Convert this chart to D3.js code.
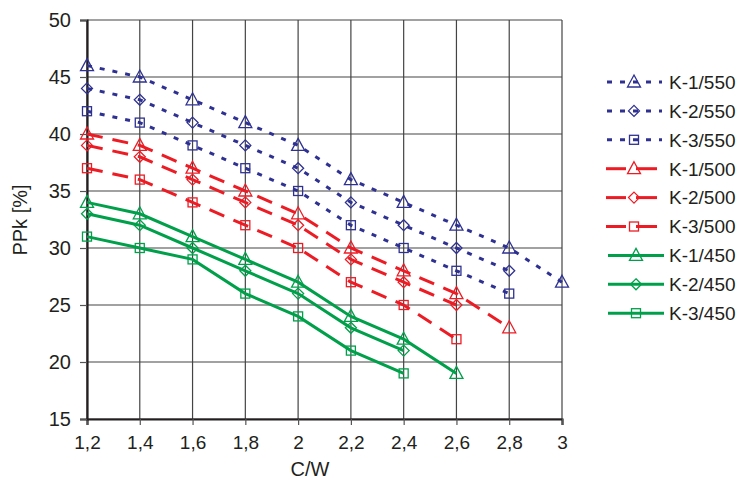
<!DOCTYPE html>
<html>
<head>
<meta charset="utf-8">
<script src="https://cdn.jsdelivr.net/npm/d3@7.9.0/dist/d3.min.js"></script>
<style>
  body { margin: 0; background: #fff; }
  svg text { font-family: "Liberation Sans", Arial, sans-serif; fill: #231f20; }
</style>
</head>
<body>
<svg id="chart" width="744" height="495"></svg>
<script>
// x values (C/W)
const cw = [1.2, 1.4, 1.6, 1.8, 2.0, 2.2, 2.4, 2.6, 2.8, 3.0];
const xTicks = [1.2, 1.4, 1.6, 1.8, 2.0, 2.2, 2.4, 2.6, 2.8, 3.0];
const yTicks = [15, 20, 25, 30, 35, 40, 45, 50];

// PPk [%] for each series
const k1_550 = [46, 45, 43, 41, 39, 36, 34, 32, 30, 27];
const k2_550 = [44, 43, 41, 39, 37, 34, 32, 30, 28];
const k3_550 = [42, 41, 39, 37, 35, 32, 30, 28, 26];
const k1_500 = [40, 39, 37, 35, 33, 30, 28, 26, 23];
const k2_500 = [39, 38, 36, 34, 32, 29, 27, 25];
const k3_500 = [37, 36, 34, 32, 30, 27, 25, 22];
const k1_450 = [34, 33, 31, 29, 27, 24, 22, 19];
const k2_450 = [33, 32, 30, 28, 26, 23, 21];
const k3_450 = [31, 30, 29, 26, 24, 21, 19];

const seriesNames = ['K-1/550', 'K-2/550', 'K-3/550', 'K-1/500', 'K-2/500', 'K-3/500', 'K-1/450', 'K-2/450', 'K-3/450'];
const seriesValues = [k1_550, k2_550, k3_550, k1_500, k2_500, k3_500, k1_450, k2_450, k3_450];
const seriesMarkers = ['tri', 'dia', 'sq', 'tri', 'dia', 'sq', 'tri', 'dia', 'sq'];

// line styles per temperature group
const blue = '#2e3192', red = '#ed1c24', green = '#00a04b';
const styleOf = (i) => {
  if (i < 3) return { color: blue, dash: '5,8', width: 3 };
  if (i < 6) return { color: red, dash: '16,10', width: 3 };
  return { color: green, dash: null, width: 3 };
};

const svg = d3.select('#chart');
const plotL = 87, plotR = 562, plotT = 20, plotB = 419;

const x = d3.scaleLinear().domain([1.2, 3]).range([plotL, plotR]);
const y = d3.scaleLinear().domain([15, 50]).range([plotB, plotT]);

// grid
const grid = svg.append('g');
grid.selectAll('.gx').data(xTicks).join('line')
  .attr('x1', d => x(d)).attr('x2', d => x(d))
  .attr('y1', plotT).attr('y2', plotB)
  .attr('stroke', '#444').attr('stroke-width', 1.2);
grid.selectAll('.gy').data(yTicks).join('line')
  .attr('x1', plotL).attr('x2', plotR)
  .attr('y1', d => y(d)).attr('y2', d => y(d))
  .attr('stroke', '#444').attr('stroke-width', 1.2);

// axes
const fmt = d => String(+d.toFixed(1)).replace('.', ',');
const xAxis = svg.append('g').attr('transform', `translate(0,${plotB})`)
  .call(d3.axisBottom(x).tickValues(xTicks).tickSize(6).tickPadding(11).tickFormat(fmt));
const yAxis = svg.append('g').attr('transform', `translate(${plotL},0)`)
  .call(d3.axisLeft(y).tickValues(yTicks).tickSize(7).tickPadding(9));
[xAxis, yAxis].forEach(a => {
  a.select('.domain').attr('stroke', '#231f20').attr('stroke-width', 2.2);
  a.selectAll('.tick line').attr('stroke', '#555').attr('stroke-width', 1.2);
  a.selectAll('.tick text').attr('fill', '#231f20');
});
xAxis.selectAll('.tick text').style('font-size', '19px');
yAxis.selectAll('.tick text').style('font-size', '20px');

svg.append('text').attr('x', 310).attr('y', 476).attr('text-anchor', 'middle')
  .style('font-size', '20px').text('C/W');
svg.append('text').attr('transform', 'translate(27,220) rotate(-90)').attr('text-anchor', 'middle')
  .style('font-size', '20px').text('PPk [%]');

// marker drawing
function marker(g, type, cx, cy, color) {
  let p;
  if (type === 'tri') p = g.append('path').attr('d', `M${cx},${cy - 7}L${cx + 6.5},${cy + 5}L${cx - 6.5},${cy + 5}Z`);
  else if (type === 'dia') p = g.append('path').attr('d', `M${cx},${cy - 5.5}L${cx + 5.5},${cy}L${cx},${cy + 5.5}L${cx - 5.5},${cy}Z`);
  else p = g.append('rect').attr('x', cx - 4.5).attr('y', cy - 4.5).attr('width', 9).attr('height', 9);
  p.attr('fill', 'none').attr('stroke', color).attr('stroke-width', 1.3);
}

const line = d3.line().x((d, i) => x(cw[i])).y(d => y(d));

seriesValues.forEach((vals, i) => {
  const s = styleOf(i);
  svg.append('path').datum(vals).attr('d', line)
    .attr('fill', 'none').attr('stroke', s.color).attr('stroke-width', s.width)
    .attr('stroke-dasharray', s.dash);
  const g = svg.append('g');
  vals.forEach((v, j) => marker(g, seriesMarkers[i], x(cw[j]), y(v), s.color));
});

// legend
const legend = svg.append('g');
seriesNames.forEach((name, i) => {
  const s = styleOf(i);
  const ly = 82 + i * 28.9;
  const row = legend.append('g');
  if (i < 3) {
    row.append('line').attr('x1', 607).attr('x2', 662).attr('y1', ly).attr('y2', ly)
      .attr('stroke', s.color).attr('stroke-width', 3).attr('stroke-dasharray', '5,8');
  } else if (i < 6) {
    row.append('line').attr('x1', 606).attr('x2', 626).attr('y1', ly).attr('y2', ly)
      .attr('stroke', s.color).attr('stroke-width', 3);
    row.append('line').attr('x1', 636).attr('x2', 657).attr('y1', ly).attr('y2', ly)
      .attr('stroke', s.color).attr('stroke-width', 3);
  } else {
    row.append('line').attr('x1', 608).attr('x2', 664).attr('y1', ly).attr('y2', ly)
      .attr('stroke', s.color).attr('stroke-width', 3);
  }
  marker(row, seriesMarkers[i], i < 6 ? 634 : 636, ly, s.color);
  row.append('text').attr('x', 669).attr('y', ly).attr('dy', '0.36em')
    .style('font-size', '19px').text(name);
});
</script>
</body>
</html>
